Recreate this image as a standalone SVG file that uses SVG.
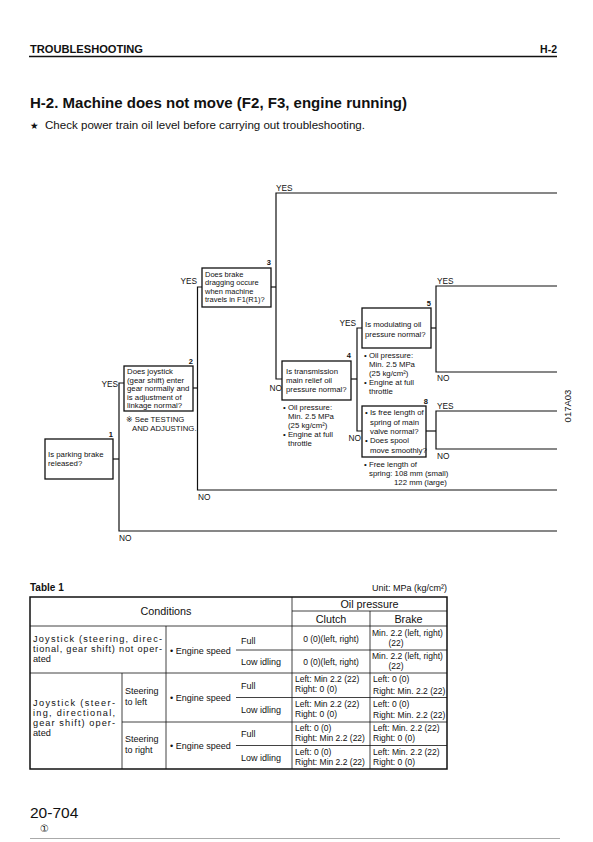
<svg xmlns="http://www.w3.org/2000/svg" width="593" height="842" viewBox="0 0 593 842">
<style>
text{font-family:"Liberation Sans","DejaVu Sans","Noto Sans CJK JP",sans-serif;fill:#111}
.hd{font-size:10.5px;font-weight:bold}
.ttl{font-size:14.5px;font-weight:bold}
.fc{font-size:7.8px}
.yn{font-size:8.3px}
.num{font-size:7.5px;font-weight:bold}
.tb{font-size:9px}
.tc{font-size:9.2px}
.op{font-size:8.5px}
.th{font-size:10.8px}
.box{fill:#fff;stroke:#111;stroke-width:1.3}
.ln{fill:none;stroke:#111;stroke-width:1.2}
.tl{fill:none;stroke:#111;stroke-width:0.8}
.to{fill:none;stroke:#111;stroke-width:1.5}
</style>
<rect width="593" height="842" fill="#fff"/>
<g id="header">
<text class="hd" x="30" y="53" textLength="113" lengthAdjust="spacingAndGlyphs">TROUBLESHOOTING</text>
<text class="hd" x="557" y="53" text-anchor="end">H-2</text>
<line x1="29" y1="56.5" x2="557" y2="56.5" stroke="#111" stroke-width="1.5"/>
<text class="ttl" x="30" y="108" textLength="377" lengthAdjust="spacingAndGlyphs">H-2. Machine does not move (F2, F3, engine running)</text>
<text x="30" y="129" style="font-size:9.5px">★</text>
<text x="45" y="129" style="font-size:10.3px" textLength="320" lengthAdjust="spacingAndGlyphs">Check power train oil level before carrying out troubleshooting.</text>
</g>
<g id="connectors">
<polyline class="ln" points="113,459 119,459"/>
<polyline class="ln" points="124,383 119,383 119,531 557,531"/>
<polyline class="ln" points="193,388 197.5,388"/>
<polyline class="ln" points="202,287 197.5,287 197.5,490 557,490"/>
<polyline class="ln" points="271,287 276,287"/>
<polyline class="ln" points="557,193 276,193 276,379 282,379"/>
<polyline class="ln" points="351,379 357,379"/>
<polyline class="ln" points="362,328 357,328 357,431 362,431"/>
<polyline class="ln" points="431,328 436,328"/>
<polyline class="ln" points="557,286 436,286 436,372 557,372"/>
<polyline class="ln" points="426,431 436,431"/>
<polyline class="ln" points="557,411 436,411 436,449 557,449"/>
<text class="yn" x="118" y="387" text-anchor="end">YES</text>
<text class="yn" x="119" y="541">NO</text>
<text class="yn" x="197" y="284" text-anchor="end">YES</text>
<text class="yn" x="198" y="500">NO</text>
<text class="yn" x="276" y="191">YES</text>
<text class="yn" x="282" y="391" text-anchor="end">NO</text>
<text class="yn" x="356" y="326" text-anchor="end">YES</text>
<text class="yn" x="361" y="441" text-anchor="end">NO</text>
<text class="yn" x="437" y="284">YES</text>
<text class="yn" x="437" y="381">NO</text>
<text class="yn" x="437" y="409">YES</text>
<text class="yn" x="437" y="459">NO</text>
</g>
<g id="node1">
<rect class="box" x="45" y="439" width="68" height="40"/>
<text class="num" x="113" y="437" text-anchor="end">1</text>
<text class="fc" x="48" y="457">Is parking brake</text>
<text class="fc" x="48" y="466">released?</text>
</g>
<g id="node2">
<rect class="box" x="124" y="366" width="69" height="45"/>
<text class="num" x="193" y="364" text-anchor="end">2</text>
<text class="fc" x="127" y="374">Does joystick</text>
<text class="fc" x="127" y="382.5">(gear shift) enter</text>
<text class="fc" x="127" y="391">gear normally and</text>
<text class="fc" x="127" y="399.5">is adjustment of</text>
<text class="fc" x="127" y="408">linkage normal?</text>
<text class="fc" x="126" y="422">※ See TESTING</text>
<text class="fc" x="132" y="431">AND ADJUSTING.</text>
</g>
<g id="node3">
<rect class="box" x="202" y="268" width="69" height="39"/>
<text class="num" x="271" y="265" text-anchor="end">3</text>
<text class="fc" x="205" y="276.5" style="font-size:7.5px">Does brake</text>
<text class="fc" x="205" y="285" style="font-size:7.5px">dragging occure</text>
<text class="fc" x="205" y="293.5" style="font-size:7.5px">when machine</text>
<text class="fc" x="205" y="302" style="font-size:7.5px">travels in F1(R1)?</text>
</g>
<g id="node4">
<rect class="box" x="282" y="361" width="69" height="39"/>
<text class="num" x="351" y="358" text-anchor="end">4</text>
<text class="fc" x="286" y="374">Is transmission</text>
<text class="fc" x="286" y="383">main relief oil</text>
<text class="fc" x="286" y="392">pressure normal?</text>
<text class="fc" x="283" y="410">• Oil pressure:</text>
<text class="fc" x="288" y="419">Min. 2.5 MPa</text>
<text class="fc" x="288" y="428">(25 kg/cm²)</text>
<text class="fc" x="283" y="437">• Engine at full</text>
<text class="fc" x="288" y="446">throttle</text>
</g>
<g id="node5">
<rect class="box" x="362" y="308" width="69" height="40"/>
<text class="num" x="431" y="306" text-anchor="end">5</text>
<text class="fc" x="365" y="327">Is modulating oil</text>
<text class="fc" x="365" y="337">pressure normal?</text>
<text class="fc" x="364" y="358">• Oil pressure:</text>
<text class="fc" x="369" y="367">Min. 2.5 MPa</text>
<text class="fc" x="369" y="376">(25 kg/cm²)</text>
<text class="fc" x="364" y="385">• Engine at full</text>
<text class="fc" x="369" y="394">throttle</text>
</g>
<g id="node8">
<rect class="box" x="362" y="406" width="64" height="51"/>
<text class="num" x="428" y="404" text-anchor="end">8</text>
<text class="fc" x="365" y="415">• Is free length of</text>
<text class="fc" x="370" y="424.5">spring of main</text>
<text class="fc" x="370" y="434">valve normal?</text>
<text class="fc" x="365" y="443">• Does spool</text>
<text class="fc" x="370" y="452.5">move smoothly?</text>
<text class="fc" x="364" y="467">• Free length of</text>
<text class="fc" x="369" y="476">spring: 108 mm (small)</text>
<text class="fc" x="394" y="485">122 mm (large)</text>
</g>
<text x="0" y="0" transform="translate(571,406) rotate(-90)" text-anchor="middle" style="font-size:9.5px">017A03</text>
<g id="table1">
<text x="30" y="591" style="font-size:10px;font-weight:bold">Table 1</text>
<text class="tb" x="447" y="591" text-anchor="end">Unit: MPa (kg/cm²)</text>
<rect class="to" x="30" y="597" width="417" height="172"/>
<line class="tl" x1="292" y1="597" x2="292" y2="769"/>
<line class="tl" x1="292" y1="611" x2="447" y2="611"/>
<line class="tl" x1="370" y1="611" x2="370" y2="769"/>
<line class="tl" x1="30" y1="626" x2="447" y2="626"/>
<line class="tl" x1="30" y1="673" x2="447" y2="673"/>
<line class="tl" x1="122" y1="722" x2="447" y2="722"/>
<line class="tl" x1="166" y1="626" x2="166" y2="769"/>
<line class="tl" x1="122" y1="673" x2="122" y2="769"/>
<line class="tl" x1="236" y1="650" x2="447" y2="650"/>
<line class="tl" x1="236" y1="697.5" x2="447" y2="697.5"/>
<line class="tl" x1="236" y1="745.5" x2="447" y2="745.5"/>
<text class="th" x="166" y="615" text-anchor="middle">Conditions</text>
<text class="th" x="369.5" y="608" text-anchor="middle">Oil pressure</text>
<text class="th" x="331" y="623" text-anchor="middle">Clutch</text>
<text class="th" x="408.5" y="623" text-anchor="middle">Brake</text>
<text class="tc" x="33" y="642" textLength="129" lengthAdjust="spacing">Joystick (steering, direc-</text>
<text class="tc" x="33" y="652" textLength="129" lengthAdjust="spacing">tional, gear shift) not oper-</text>
<text class="tc" x="33" y="662">ated</text>
<text class="tb" x="170" y="654">• Engine speed</text>
<text class="tb" x="241" y="644">Full</text>
<text class="tb" x="241" y="665">Low idling</text>
<text class="op" x="331" y="642" text-anchor="middle">0 (0)(left, right)</text>
<text class="op" x="331" y="665" text-anchor="middle">0 (0)(left, right)</text>
<text class="op" x="372" y="636">Min. 2.2 (left, right)</text>
<text class="op" x="396" y="645.5" text-anchor="middle">(22)</text>
<text class="op" x="372" y="659">Min. 2.2 (left, right)</text>
<text class="op" x="396" y="668.5" text-anchor="middle">(22)</text>
<text class="tc" x="33" y="705.5" textLength="82" lengthAdjust="spacing">Joystick (steer-</text>
<text class="tc" x="33" y="715.5" textLength="82" lengthAdjust="spacing">ing, directional,</text>
<text class="tc" x="33" y="725.5" textLength="82" lengthAdjust="spacing">gear shift) oper-</text>
<text class="tc" x="33" y="735.5">ated</text>
<text class="tb" x="125" y="694">Steering</text>
<text class="tb" x="125" y="705">to left</text>
<text class="tb" x="170" y="701">• Engine speed</text>
<text class="tb" x="241" y="689">Full</text>
<text class="tb" x="241" y="713">Low idling</text>
<text class="tb" x="125" y="742">Steering</text>
<text class="tb" x="125" y="753">to right</text>
<text class="tb" x="170" y="749">• Engine speed</text>
<text class="tb" x="241" y="737">Full</text>
<text class="tb" x="241" y="761">Low idling</text>
<text class="op" x="295" y="682">Left: Min 2.2 (22)</text>
<text class="op" x="295" y="692">Right: 0 (0)</text>
<text class="op" x="373" y="682">Left: 0 (0)</text>
<text class="op" x="373" y="694">Right: Min. 2.2 (22)</text>
<text class="op" x="295" y="707">Left: Min 2.2 (22)</text>
<text class="op" x="295" y="716.5">Right: 0 (0)</text>
<text class="op" x="373" y="707">Left: 0 (0)</text>
<text class="op" x="373" y="718">Right: Min. 2.2 (22)</text>
<text class="op" x="295" y="731">Left: 0 (0)</text>
<text class="op" x="295" y="740.5">Right: Min 2.2 (22)</text>
<text class="op" x="373" y="731">Left: Min. 2.2 (22)</text>
<text class="op" x="373" y="740.5">Right: 0 (0)</text>
<text class="op" x="295" y="755">Left: 0 (0)</text>
<text class="op" x="295" y="764.5">Right: Min 2.2 (22)</text>
<text class="op" x="373" y="755">Left: Min. 2.2 (22)</text>
<text class="op" x="373" y="764.5">Right: 0 (0)</text>
</g>
<g id="footer">
<text x="30" y="818" style="font-size:15.5px">20-704</text>
<text x="40" y="832" style="font-size:10px">①</text>
<line x1="30" y1="838.5" x2="560" y2="838.5" stroke="#aaa" stroke-width="1"/>
</g>
</svg>
